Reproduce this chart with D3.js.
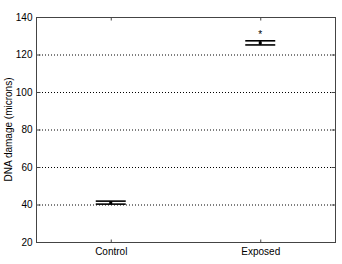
<!DOCTYPE html>
<html>
<head>
<meta charset="utf-8">
<script src="https://cdn.jsdelivr.net/npm/d3@7"></script>
<style>
  body { margin: 0; background: #fff; }
  text { font-family: "Liberation Sans", Arial, sans-serif; }
</style>
</head>
<body>
<div id="vis"></div>
<script>
// data
const groups = ["Control", "Exposed"]
const means = [41.0, 126.2]
const errors = [0.8, 1.1]
const marks = ["", "*"]
const yTicks = [20, 40, 60, 80, 100, 120, 140]

const width = 342
const height = 264
const margin = {left: 36, right: 7, top: 17, bottom: 22}

const svg = d3.select("#vis")
  .append("svg")
  .attr("width", width)
  .attr("height", height)

const x = d3.scalePoint()
  .domain(groups)
  .range([margin.left, width - margin.right])
  .padding(0.5)

const y = d3.scaleLinear()
  .domain([20, 140])
  .range([height - margin.bottom, margin.top])

// dotted grid
svg.selectAll("grid")
  .data(yTicks.slice(1, -1))
  .enter()
  .append("line")
    .attr("x1", margin.left)
    .attr("x2", width - margin.right)
    .attr("y1", d => y(d) + 0.5)
    .attr("y2", d => y(d) + 0.5)
    .attr("stroke", "#000")
    .attr("stroke-width", 1)
    .style("stroke-dasharray", "1,2")

// y axis, ticks inward
const yAxis = svg.append("g")
  .attr("transform", "translate(" + (margin.left + 0.5) + ",0)")
  .call(d3.axisLeft(y).tickValues(yTicks).tickSize(-4).tickPadding(4))
yAxis.select(".domain").remove()
yAxis.selectAll("line").attr("stroke", "#444")
yAxis.selectAll("text").style("font-size", "10px").attr("fill", "#000")

const yAxisR = svg.append("g")
  .attr("transform", "translate(" + (width - margin.right + 0.5) + ",0)")
  .call(d3.axisRight(y).tickValues(yTicks).tickSize(-4).tickFormat(""))
yAxisR.select(".domain").remove()
yAxisR.selectAll("line").attr("stroke", "#444")

// x axis
const xAxis = svg.append("g")
  .attr("transform", "translate(0," + (height - margin.bottom + 0.5) + ")")
  .call(d3.axisBottom(x).tickSize(-3).tickPadding(5))
xAxis.select(".domain").remove()
xAxis.selectAll("line").attr("stroke", "#444")
xAxis.selectAll("text").style("font-size", "10px").attr("fill", "#000")

const xAxisT = svg.append("g")
  .attr("transform", "translate(0," + (margin.top + 0.5) + ")")
  .call(d3.axisTop(x).tickSize(-3).tickFormat(""))
xAxisT.select(".domain").remove()
xAxisT.selectAll("line").attr("stroke", "#444")

// frame
svg.append("rect")
  .attr("x", margin.left + 0.5)
  .attr("y", margin.top + 0.5)
  .attr("width", width - margin.left - margin.right)
  .attr("height", height - margin.top - margin.bottom)
  .attr("fill", "none")
  .attr("stroke", "#444")
  .attr("stroke-width", 1)

// error bars
const bars = svg.selectAll("errbar")
  .data(groups)
  .enter()
  .append("g")

bars.append("line")
  .attr("x1", d => x(d))
  .attr("x2", d => x(d))
  .attr("y1", (d, i) => y(means[i] + errors[i]))
  .attr("y2", (d, i) => y(means[i] - errors[i]))
  .attr("stroke", "#000")
  .attr("stroke-width", 1.5)

bars.selectAll("cap")
  .data((d, i) => [[d, means[i] + errors[i]], [d, means[i] - errors[i]]])
  .enter()
  .append("line")
    .attr("x1", d => x(d[0]) - 15)
    .attr("x2", d => x(d[0]) + 15)
    .attr("y1", d => y(d[1]))
    .attr("y2", d => y(d[1]))
    .attr("stroke", "#000")
    .attr("stroke-width", 1.6)

bars.append("rect")
  .attr("x", d => x(d) - 1.5)
  .attr("y", (d, i) => y(means[i]) - 1.5)
  .attr("width", 3)
  .attr("height", 3)
  .attr("fill", "#000")

bars.append("text")
  .attr("x", d => x(d))
  .attr("y", (d, i) => y(means[i] + errors[i]) - 3)
  .attr("text-anchor", "middle")
  .style("font-size", "10px")
  .text((d, i) => marks[i])

// y label
svg.append("text")
  .attr("transform", "translate(12," + ((margin.top + height - margin.bottom) / 2) + ") rotate(-90)")
  .attr("text-anchor", "middle")
  .style("font-size", "10px")
  .text("DNA damage (microns)")
</script>
</body>
</html>
